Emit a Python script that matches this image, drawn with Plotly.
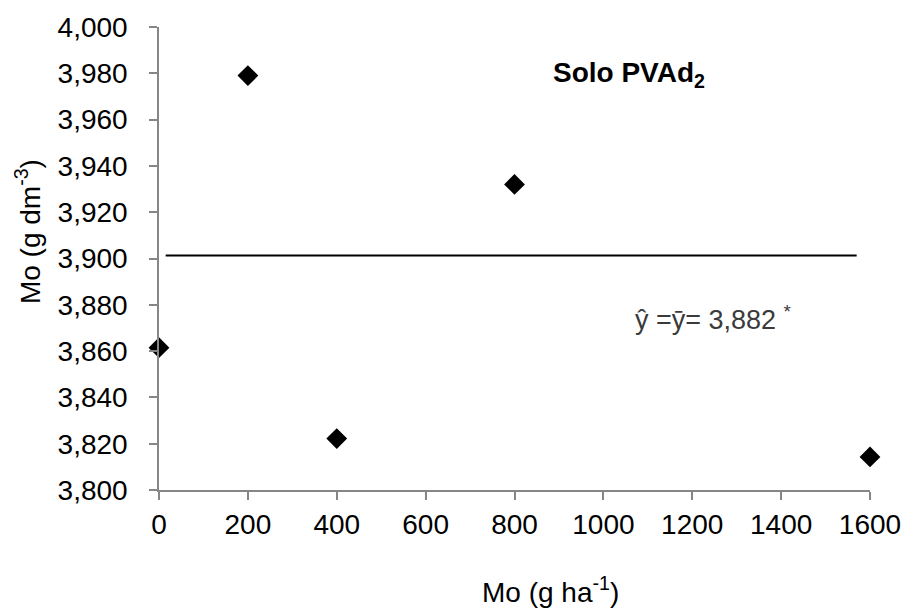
import plotly.graph_objects as go

# Data
doses = [0, 200, 400, 800, 1600]
mo_values = [3.8615, 3.979, 3.8222, 3.932, 3.8143]
mean_line_x = [15, 1570]
mean_line_y = [3.9013, 3.9013]
x_ticks = [0, 200, 400, 600, 800, 1000, 1200, 1400, 1600]
y_ticks = [3.80, 3.82, 3.84, 3.86, 3.88, 3.90, 3.92, 3.94, 3.96, 3.98, 4.00]

FONT = "Liberation Sans, Arial, sans-serif"
AXIS_GRAY = "#868686"

fig = go.Figure()
fig.add_trace(go.Scatter(x=mean_line_x, y=mean_line_y, mode="lines",
                         line=dict(color="black", width=2), showlegend=False,
                         hoverinfo="skip"))
fig.add_trace(go.Scatter(x=doses, y=mo_values, mode="markers",
                         marker=dict(symbol="diamond", size=16, color="black",
                                     line=dict(width=0)),
                         showlegend=False, cliponaxis=False))

fig.update_layout(
    width=913, height=610,
    margin=dict(l=159, r=42, t=24, b=120),
    paper_bgcolor="white", plot_bgcolor="white",
    separators=",.",
    font=dict(family=FONT, size=28, color="black"),
    xaxis=dict(range=[0, 1600], tickvals=x_ticks, tickformat="d",
               showgrid=False, zeroline=False, showline=True,
               linecolor=AXIS_GRAY, linewidth=1.5,
               ticks="outside", ticklen=8, tickcolor=AXIS_GRAY, tickwidth=1.5,
               ticklabelstandoff=1,
               tickfont=dict(family=FONT, size=28, color="black")),
    yaxis=dict(range=[3.8, 4.0], tickvals=y_ticks, tickformat=".3f",
               showgrid=False, zeroline=False, showline=True,
               linecolor=AXIS_GRAY, linewidth=1.5,
               ticks="outside", ticklen=8, tickcolor=AXIS_GRAY, tickwidth=1.5,
               ticklabelstandoff=16,
               tickfont=dict(family=FONT, size=28, color="black")),
    annotations=[
        dict(text="Mo (g ha<sup>-1</sup>)", xref="paper", yref="paper",
             x=0.5506, y=-0.215, xanchor="center", yanchor="middle",
             showarrow=False, font=dict(family=FONT, size=28, color="black")),
        dict(text="Mo (g dm<sup>-3</sup>)", xref="paper", yref="paper",
             x=-0.185, y=0.558, xanchor="center", yanchor="middle", textangle=-90,
             showarrow=False, font=dict(family=FONT, size=28, color="black")),
        dict(text="<b>Solo PVAd<sub>2</sub></b>", xref="paper", yref="paper",
             x=0.661, y=0.897, xanchor="center", yanchor="middle",
             showarrow=False, font=dict(family=FONT, size=28, color="black")),
        dict(text="ŷ =ȳ= 3,882 <sup>*</sup>", xref="paper", yref="paper",
             x=0.78, y=0.371, xanchor="center", yanchor="middle",
             showarrow=False, font=dict(family=FONT, size=27, color="#3a3a3a")),
    ],
)

fig.write_html("out.html")
